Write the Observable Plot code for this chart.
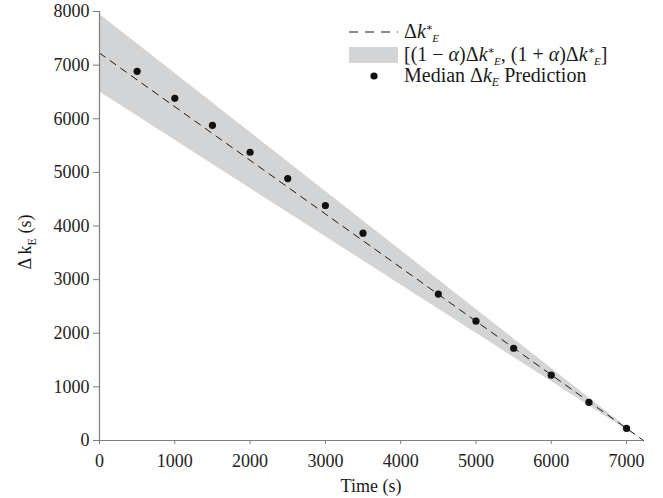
<!DOCTYPE html>
<html>
<head>
<meta charset="utf-8">
<script src="https://cdn.jsdelivr.net/npm/d3@7"></script>
<script src="https://cdn.jsdelivr.net/npm/@observablehq/plot@0.6"></script>
<style>
  html, body { margin: 0; padding: 0; background: white; }
  #chart svg { display: block; }
</style>
</head>
<body>
<div id="chart"></div>
<script>
// ---- data ----
const xTicks = [0, 1000, 2000, 3000, 4000, 5000, 6000, 7000];
const yTicks = [0, 1000, 2000, 3000, 4000, 5000, 6000, 7000, 8000];

// reference line Δk*_E (endpoints)
const lineTime = [0, 7225];
const lineK = [7225, 0];

// band [(1-α)Δk*, (1+α)Δk*] endpoints
const bandTime = [0, 7225];
const bandLow = [6503, 0];
const bandHigh = [7948, 0];

// median predictions
const predTime = [500, 1000, 1500, 2000, 2500, 3000, 3500, 4500, 5000, 5500, 6000, 6500, 7000];
const predK = [6884, 6380, 5877, 5375, 4885, 4382, 3866, 2730, 2225, 1720, 1218, 712, 225];

const lineData = lineTime.map((t, i) => ({t, k: lineK[i]}));
const bandData = bandTime.map((t, i) => ({t, lo: bandLow[i], hi: bandHigh[i]}));
const predData = predTime.map((t, i) => ({t, k: predK[i]}));

const axisGray = "#7d7d7d";
const bandFill = "#d3d4d6";
const serif = "'Liberation Serif', 'DejaVu Serif', serif";

const plot = Plot.plot({
  width: 663,
  height: 498,
  marginLeft: 99,
  marginRight: 20,
  marginTop: 11,
  marginBottom: 58,
  x: {domain: [0, 7225]},
  y: {domain: [0, 8000]},
  style: {fontFamily: serif, fontSize: "18px", background: "white", color: "#222"},
  marks: [
    Plot.areaY(bandData, {x: "t", y1: "lo", y2: "hi", fill: bandFill}),
    Plot.line(lineData, {x: "t", y: "k", stroke: "#1a1a1a", strokeWidth: 1, strokeDasharray: "7,6"}),
    Plot.dot(predData, {x: "t", y: "k", r: 3.6, fill: "#111", stroke: "none"}),
    Plot.ruleX([0], {stroke: axisGray, strokeWidth: 1.2}),
    Plot.ruleY([0], {stroke: axisGray, strokeWidth: 1.2}),
    Plot.axisX({ticks: xTicks, tickFormat: "d", tickSize: 4, tickPadding: 10, stroke: axisGray, fill: "#222", label: null}),
    Plot.axisY({ticks: yTicks, tickFormat: "d", tickSize: 6, tickPadding: 4, stroke: axisGray, fill: "#222", label: null})
  ]
});

document.getElementById("chart").appendChild(plot);

const svg = d3.select(plot);

// helper to write text with sub/superscripts
function richText(g, x, y, parts, size, anchor = "start") {
  const t = g.append("text").attr("x", x).attr("y", y)
    .attr("font-family", serif).attr("font-size", size).attr("fill", "#1a1a1a")
    .attr("text-anchor", anchor);
  let cur = 0;
  for (const p of parts) {
    const target = p.shift || 0;
    const ts = t.append("tspan").text(p.t).attr("dy", target - cur);
    cur = target;
    if (p.italic) ts.attr("font-style", "italic");
    if (p.size) ts.attr("font-size", p.size);
    if (p.dx) ts.attr("dx", p.dx);
  }
  return t;
}

// axis titles
richText(svg, 371, 492, [{t: "Time (s)"}], 18, "middle");
const yl = svg.append("g").attr("transform", "translate(31,242) rotate(-90)");
richText(yl, 0, 0, [
  {t: "Δ k"},
  {t: "E", shift: 5, size: 12},
  {t: " (s)", shift: 0}
], 18, "middle");

// legend
const lg = svg.append("g");
const lx0 = 349, lx1 = 398, tx = 404;
lg.append("line").attr("x1", lx0).attr("x2", lx1).attr("y1", 32).attr("y2", 32)
  .attr("stroke", "#1a1a1a").attr("stroke-width", 1).attr("stroke-dasharray", "9,7");
const starE = [
  {t: "k", italic: true},
  {t: "∗", shift: -7, size: 11},
  {t: "E", shift: 4, size: 11, italic: true, dx: -1}
];
richText(lg, tx, 38, [{t: "Δ"}, ...starE], 20);

lg.append("rect").attr("x", lx0).attr("y", 47).attr("width", lx1 - lx0).attr("height", 16).attr("fill", bandFill);
richText(lg, tx, 61, [
  {t: "[(1 − "}, {t: "α", italic: true}, {t: ")Δ"},
  ...starE,
  {t: ", (1 + ", shift: 0}, {t: "α", italic: true}, {t: ")Δ"},
  ...starE,
  {t: "]", shift: 0}
], 20);

lg.append("circle").attr("cx", 374).attr("cy", 76).attr("r", 3.6).attr("fill", "#111");
richText(lg, tx, 82, [
  {t: "Median Δ"}, {t: "k", italic: true},
  {t: "E", shift: 4, size: 12, italic: true},
  {t: " Prediction", shift: 0}
], 20);
</script>
</body>
</html>
